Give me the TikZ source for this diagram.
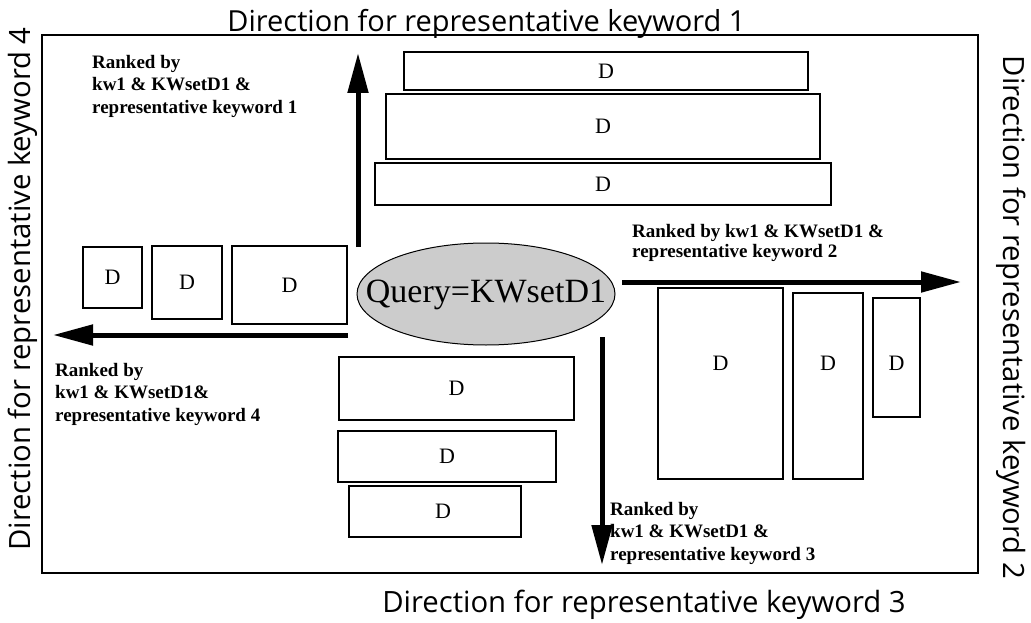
\documentclass[tikz,border=0pt]{standalone}
\usepackage{fontspec}
\setmainfont{Liberation Serif}
\newfontfamily\dirfont{Open Sans}
\usetikzlibrary{arrows.meta}
\begin{document}
\begin{tikzpicture}[x=1pt,y=-1pt,
  docbox/.style={draw, line width=1.4pt, inner sep=0pt, font=\fontsize{22}{22}\selectfont},
  rankedlbl/.style={anchor=north west, inner sep=0pt, align=left, font=\fontsize{19}{22.5}\selectfont\bfseries},
  dirlbl/.style={inner sep=0pt, anchor=base, font=\dirfont\fontsize{29.3}{29.3}\selectfont},
  bigarrow/.style={line width=5pt, -{Triangle[length=40pt,width=20pt]}},
]
\useasboundingbox (0,0) rectangle (1031,623);

% frame
\draw[line width=1.4pt] (42,35) rectangle (978,573);

% direction titles
\node[dirlbl, font=\dirfont\fontsize{29}{29}\selectfont] (dir1) at (486.5,32) {Direction for representative keyword 1};
\node[dirlbl] (dir3) at (644,612) {Direction for representative keyword 3};
\node[dirlbl, rotate=90] (dir4) at (30,289) {Direction for representative keyword 4};
\node[dirlbl, rotate=-90] (dir2) at (1003,317.5) {Direction for representative keyword 2};

% query ellipse
\coordinate (qc) at (486,294);
\draw[line width=1pt, fill=black!20] (qc) ellipse [x radius=129, y radius=51];
\node[inner sep=0pt, font=\fontsize{34}{34}\selectfont] (q) at (486,295) {Query=KWsetD1};

% top documents
\node[docbox, minimum width=404, minimum height=38] (t1) at (606,71) {D};
\node[docbox, minimum width=434, minimum height=65] (t2) at (603,126.5) {D};
\node[docbox, minimum width=456, minimum height=42] (t3) at (603,184) {D};

% left documents
\node[docbox, minimum width=59, minimum height=61] (l1) at (112.5,277.5) {D};
\node[docbox, minimum width=70, minimum height=73] (l2) at (187,282.5) {D};
\node[docbox, minimum width=115, minimum height=78] (l3) at (289.5,285) {D};

% bottom documents
\node[docbox, minimum width=235, minimum height=63] (b1) at (456.5,388.5) {D\hspace{22pt}};
\node[docbox, minimum width=218, minimum height=51] (b2) at (447,456.5) {D};
\node[docbox, minimum width=172, minimum height=51] (b3) at (435,511.5) {\hspace{16pt}D};

% right documents
\node[docbox, minimum width=125, minimum height=191, text height=15pt, text depth=41pt] (r1) at (720.5,383.5) {D\hspace{14pt}};
\node[docbox, minimum width=70, minimum height=186, text height=15pt, text depth=46pt] (r2) at (828,386) {D};
\node[docbox, minimum width=47, minimum height=119, text height=26pt, text depth=0pt] (r3) at (896.5,357.5) {D};

% arrows
\coordinate (u0) at (358,247); \coordinate (u1) at (358,53);
\coordinate (w0) at (348,335); \coordinate (w1) at (53,335);
\coordinate (e0) at (622,282); \coordinate (e1) at (961,282);
\coordinate (s0) at (602,337); \coordinate (s1) at (602,565);
\draw[bigarrow] (u0) -- (u1);
\draw[bigarrow] (w0) -- (w1);
\draw[bigarrow] (e0) -- (e1);
\draw[bigarrow] (s0) -- (s1);

% ranking labels
\node[rankedlbl] (k1) at (92,55) {Ranked by\\kw1 \& KWsetD1 \&\\representative keyword 1};
\node[rankedlbl, font=\fontsize{19}{20}\selectfont\bfseries] (k2) at (632,224) {Ranked by kw1 \& KWsetD1 \&\\representative keyword 2};
\node[rankedlbl] (k3) at (610,502) {Ranked by\\kw1 \& KWsetD1 \&\\representative keyword 3};
\node[rankedlbl] (k4) at (55,363) {Ranked by\\kw1 \& KWsetD1\&\\representative keyword 4};
\end{tikzpicture}
\end{document}
